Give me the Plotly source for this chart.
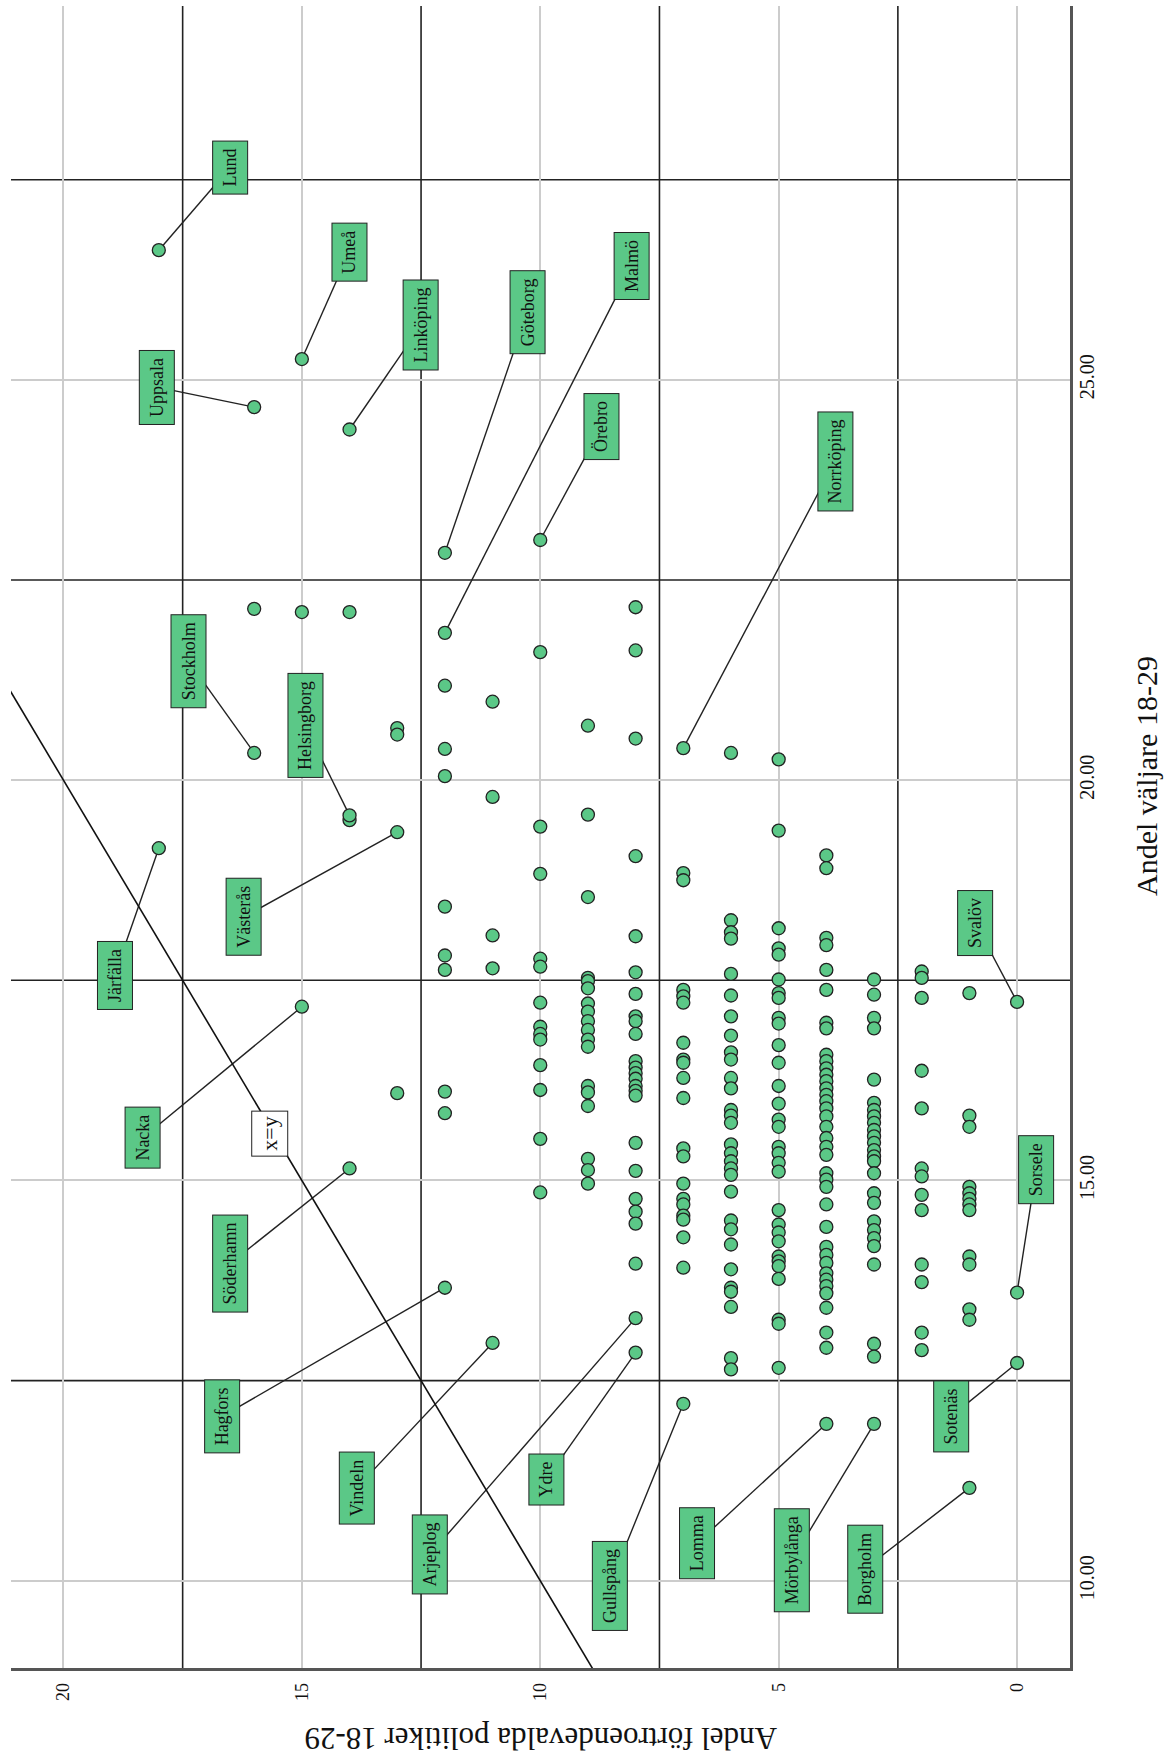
import plotly.graph_objects as go

# ---------------- data ----------------
# unlabeled municipalities: share of elected politicians 18-29 and share of voters 18-29
andel_politiker = (
    [16] + [15] + [14, 14] + [13, 13, 13]
    + [12] * 8 + [11] * 4 + [10] * 13 + [9] * 18 + [8] * 23 + [7] * 19
    + [6] * 30 + [5] * 31 + [4] * 37 + [3] * 25 + [2] * 13 + [1] * 12
)
andel_valjare = (
    [22.14]
    + [22.10]
    + [22.10, 19.50]
    + [20.65, 20.57, 16.09]
    + [21.18, 20.39, 20.05, 18.42, 17.81, 17.63, 16.11, 15.84]
    + [20.98, 19.79, 18.06, 17.65]
    + [21.60, 19.42, 18.83, 17.77, 17.67, 17.22, 16.92, 16.83, 16.76, 16.44, 16.13, 15.52, 14.85]
    + [20.68, 19.57, 18.54, 17.53, 17.49, 17.40, 17.21, 17.11, 16.99, 16.88, 16.76, 16.67,
       16.18, 16.10, 15.93, 15.27, 15.13, 14.96]
    + [22.16, 21.62, 20.52, 19.05, 18.05, 17.60, 17.33, 17.05, 16.99, 16.83, 16.49, 16.41,
       16.34, 16.27, 16.18, 16.12, 16.06, 15.47, 15.12, 14.77, 14.61, 14.46, 13.96]
    + [18.84, 18.75, 17.38, 17.30, 17.22, 16.72, 16.51, 16.47, 16.28, 16.03, 15.40, 15.30,
       14.96, 14.77, 14.70, 14.56, 14.51, 14.29, 13.91]
    + [20.34, 18.25, 18.10, 18.02, 17.58, 17.31, 17.05, 16.81, 16.60, 16.51, 16.28, 16.15,
       15.88, 15.81, 15.72, 15.45, 15.34, 15.24, 15.15, 15.07, 14.86, 14.50, 14.39, 14.20,
       13.89, 13.66, 13.61, 13.42, 12.78, 12.64]
    + [20.26, 19.37, 18.15, 17.90, 17.82, 17.51, 17.34, 17.28, 17.03, 16.96, 16.69, 16.47,
       16.18, 15.96, 15.76, 15.67, 15.42, 15.34, 15.22, 15.11, 14.63, 14.45, 14.35, 14.24,
       14.05, 13.99, 13.93, 13.77, 13.26, 13.21, 12.66]
    + [19.06, 18.90, 18.03, 17.94, 17.63, 17.38, 16.97, 16.90, 16.57, 16.49, 16.40, 16.32,
       16.24, 16.15, 16.07, 15.99, 15.90, 15.80, 15.67, 15.53, 15.42, 15.32, 15.09, 15.01,
       14.92, 14.70, 14.42, 14.17, 14.07, 13.97, 13.84, 13.76, 13.68, 13.59, 13.41, 13.10, 12.91]
    + [17.51, 17.32, 17.03, 16.90, 16.26, 15.97, 15.88, 15.80, 15.72, 15.63, 15.55, 15.47,
       15.38, 15.30, 15.24, 15.09, 14.84, 14.72, 14.49, 14.38, 14.28, 14.18, 13.95, 12.96, 12.80]
    + [17.61, 17.53, 17.28, 16.37, 15.90, 15.15, 15.05, 14.82, 14.63, 13.95, 13.73, 13.10, 12.88]
    + [17.34, 15.81, 15.67, 14.92, 14.84, 14.77, 14.70, 14.63, 14.05, 13.95, 13.39, 13.26]
)

# labeled municipalities
kommun_namn = ["Lund", "Umeå", "Uppsala", "Linköping", "Göteborg", "Malmö", "Örebro",
               "Norrköping", "Stockholm", "Helsingborg", "Västerås", "Järfälla", "Svalöv",
               "Nacka", "Sorsele", "Söderhamn", "Hagfors", "Sotenäs", "Vindeln", "Ydre",
               "Arjeplog", "Gullspång", "Lomma", "Mörbylånga", "Borgholm"]
kommun_politiker = [18, 15, 16, 14, 12, 12, 10, 7, 16, 14, 13, 18, 0,
                    15, 0, 14, 12, 0, 11, 8, 8, 7, 4, 3, 1]
kommun_valjare = [26.62, 25.26, 24.66, 24.38, 22.84, 21.84, 23.00, 20.40, 20.34, 19.56,
                  19.35, 19.15, 17.23, 17.17, 13.60, 15.15, 13.66, 12.72, 12.97, 12.85,
                  13.28, 12.21, 11.96, 11.96, 11.16]
# label box centres (data coordinates)
etikett_politiker = [16.51, 14.01, 18.04, 12.50, 10.27, 8.08, 8.71, 3.82, 17.38, 14.93,
                     16.22, 18.93, 0.87, 18.34, -0.40, 16.51, 16.68, 1.39, 13.85, 9.87,
                     12.31, 8.55, 6.71, 4.73, 3.19]
etikett_valjare = [27.65, 26.59, 24.91, 25.68, 25.85, 26.42, 24.42, 23.98, 21.49, 20.68,
                   18.29, 17.56, 18.21, 15.53, 15.13, 13.96, 12.05, 12.05, 11.16, 11.27,
                   10.33, 9.94, 10.47, 10.25, 10.15]

ref_politiker = [2.5, 7.5, 12.5, 17.5]
ref_valjare = [12.5, 17.5, 22.5, 27.5]
xy_line = [8.0, 30.0]
xy_label = (15.68, 15.59)

x_ticks = [0, 5, 10, 15, 20]
x_ticktext = ["0", "5", "10", "15", "20"]
y_ticks = [10, 15, 20, 25]
y_ticktext = ["10.00", "15.00", "20.00", "25.00"]

# ---------------- style ----------------
FONT = "Liberation Serif"
GREEN = "#5BC887"
EDGE = "#222222"

fig = go.Figure()

# connector lines
lx, ly = [], []
for px, py, ex, ey in zip(kommun_politiker, kommun_valjare, etikett_politiker, etikett_valjare):
    lx += [px, ex, None]
    ly += [py, ey, None]
fig.add_trace(go.Scatter(x=lx, y=ly, mode="lines",
                         line=dict(color="#222222", width=1.4),
                         hoverinfo="skip", showlegend=False))

# x=y line
fig.add_trace(go.Scatter(x=xy_line, y=xy_line, mode="lines",
                         line=dict(color="#111111", width=1.6),
                         hoverinfo="skip", showlegend=False))

# points
fig.add_trace(go.Scatter(x=andel_politiker + kommun_politiker,
                         y=andel_valjare + kommun_valjare,
                         mode="markers",
                         marker=dict(size=13, color=GREEN, line=dict(color=EDGE, width=1.3)),
                         showlegend=False))

shapes = []
for v in ref_politiker:
    shapes.append(dict(type="line", xref="x", yref="paper", x0=v, x1=v, y0=0, y1=1,
                       line=dict(color="#222222", width=1.6), layer="below"))
for v in ref_valjare:
    shapes.append(dict(type="line", xref="paper", yref="y", x0=0, x1=1, y0=v, y1=v,
                       line=dict(color="#222222", width=1.6), layer="below"))

annotations = []
for name, ex, ey in zip(kommun_namn, etikett_politiker, etikett_valjare):
    annotations.append(dict(x=ex, y=ey, xref="x", yref="y", text=name, showarrow=False,
                            textangle=-90, bgcolor=GREEN, bordercolor=EDGE, borderwidth=1,
                            borderpad=7, font=dict(family=FONT, size=18, color="#111111")))
annotations.append(dict(x=xy_label[0], y=xy_label[1], xref="x", yref="y", text="x=y",
                        showarrow=False, textangle=-90, bgcolor="white", bordercolor=EDGE,
                        borderwidth=1, borderpad=5,
                        font=dict(family=FONT, size=22, color="#111111")))
annotations.append(dict(x=0.5, y=-0.0541, xref="paper", yref="paper",
                        text="Andel förtroendevalda politiker 18-29", showarrow=False,
                        textangle=180, font=dict(family=FONT, size=31, color="#111111")))
annotations.append(dict(x=1.0897, y=0.537, xref="paper", yref="paper",
                        text="Andel väljare 18-29", showarrow=False,
                        textangle=-90, font=dict(family=FONT, size=30, color="#111111")))

fig.update_layout(
    width=1174, height=1760,
    margin=dict(l=11, r=104, t=6, b=92),
    paper_bgcolor="white", plot_bgcolor="white",
    font=dict(family=FONT, color="#111111"),
    shapes=shapes, annotations=annotations,
    xaxis=dict(range=[21.10, -1.11], tickvals=x_ticks, ticktext=x_ticktext,
               tickangle=-90, showgrid=True, gridcolor="#cccccc", gridwidth=1.5,
               zeroline=False, showline=True, mirror=False, linecolor="#555555", linewidth=2.5,
               ticks="", ticklen=0, ticklabelstandoff=5, tickfont=dict(family=FONT, size=18)),
    yaxis=dict(range=[8.91, 29.67], tickvals=y_ticks, ticktext=y_ticktext, side="right",
               tickangle=-90, showgrid=True, gridcolor="#cccccc", gridwidth=1.5,
               zeroline=False, showline=True, mirror=False, linecolor="#555555", linewidth=2.5,
               ticks="", ticklen=0, ticklabelstandoff=-3, tickfont=dict(family=FONT, size=20)),
)

fig.write_html("out.html", config={"displayModeBar": False},
               post_script="document.body.style.margin='0px';")
